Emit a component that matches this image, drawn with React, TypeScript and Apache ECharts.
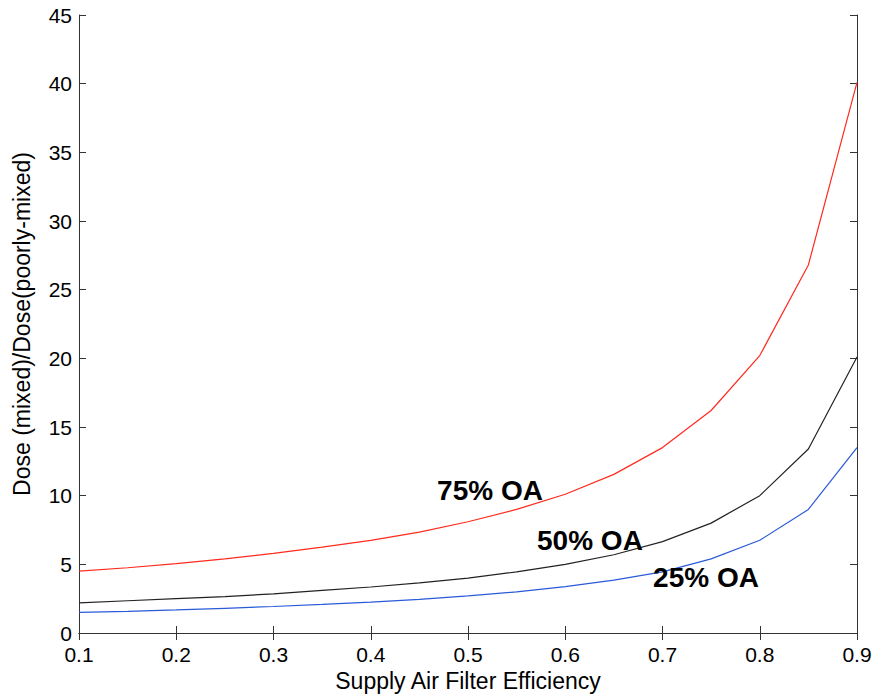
import React, { useEffect, useRef } from "react";
import * as echarts from "echarts";

const efficiency = [0.1, 0.15, 0.2, 0.25, 0.3, 0.35, 0.4, 0.45, 0.5, 0.55, 0.6, 0.65, 0.7, 0.75, 0.8, 0.85, 0.9];
const oa75 = [4.5, 4.75, 5.05, 5.4, 5.8, 6.25, 6.75, 7.35, 8.1, 9.0, 10.1, 11.55, 13.5, 16.2, 20.2, 26.8, 40.1];
const oa50 = [2.2, 2.35, 2.5, 2.65, 2.85, 3.1, 3.35, 3.65, 4.0, 4.45, 5.0, 5.7, 6.65, 8.0, 10.0, 13.4, 20.1];
const oa25 = [1.5, 1.58, 1.68, 1.8, 1.93, 2.08, 2.25, 2.45, 2.7, 3.0, 3.38, 3.85, 4.45, 5.4, 6.75, 9.0, 13.5];
const seriesNames = ["75% OA", "50% OA", "25% OA"];
const labelCoords: [number, number][] = [[0.5226, 10.41], [0.6254, 6.77], [0.7447, 4.04]];
const xTitle = "Supply Air Filter Efficiency";
const yTitle = "Dose (mixed)/Dose(poorly-mixed)";

const FONT = "Liberation Sans, Arial, Helvetica, sans-serif";

export default function App() {
  const ref = useRef<HTMLDivElement>(null);
  useEffect(() => {
    if (!ref.current) return;
    const chart = echarts.init(ref.current, undefined, { renderer: "svg" });
    const pair = (ys: number[]) => efficiency.map((x, i) => [x, ys[i]]);
    const colors = ["#ff2a1e", "#222222", "#2a5ad8"];
    const datasets = [oa75, oa50, oa25];
    const axisLine = { show: true, lineStyle: { color: "#333", width: 1 } };
    const tick = { show: true, inside: true, length: 7, lineStyle: { color: "#333", width: 1 } };
    chart.setOption({
      animation: false,
      backgroundColor: "#ffffff",
      textStyle: { fontFamily: FONT },
      grid: { left: 79, right: 18, top: 15, bottom: 65, containLabel: false },
      xAxis: [
        {
          type: "value",
          min: 0.1,
          max: 0.9,
          interval: 0.1,
          position: "bottom",
          name: xTitle,
          nameLocation: "middle",
          nameGap: 34,
          nameTextStyle: { fontSize: 23, color: "#000", fontFamily: FONT },
          axisLine,
          axisTick: tick,
          splitLine: { show: false },
          axisLabel: {
            fontSize: 21,
            color: "#000",
            margin: 11,
            fontFamily: FONT,
            formatter: (v: number) => v.toFixed(1),
          },
        },
        {
          type: "value",
          min: 0.1,
          max: 0.9,
          interval: 0.1,
          position: "top",
          axisLine,
          axisTick: tick,
          splitLine: { show: false },
          axisLabel: { show: false },
        },
      ],
      yAxis: [
        {
          type: "value",
          min: 0,
          max: 45,
          interval: 5,
          position: "left",
          name: yTitle,
          nameLocation: "middle",
          nameGap: 46,
          nameRotate: 90,
          nameTextStyle: { fontSize: 23, color: "#000", fontFamily: FONT },
          axisLine,
          axisTick: tick,
          splitLine: { show: false },
          axisLabel: { fontSize: 21, color: "#000", margin: 7, fontFamily: FONT },
        },
        {
          type: "value",
          min: 0,
          max: 45,
          interval: 5,
          position: "right",
          axisLine,
          axisTick: tick,
          splitLine: { show: false },
          axisLabel: { show: false },
        },
      ],
      series: datasets.map((ys, i) => ({
        name: seriesNames[i],
        type: "line",
        xAxisIndex: 0,
        yAxisIndex: 0,
        data: pair(ys),
        symbol: "none",
        lineStyle: { color: colors[i], width: 1.2 },
        z: 3,
        markPoint: {
          symbol: "circle",
          symbolSize: 0,
          silent: true,
          data: [
            {
              coord: labelCoords[i],
              label: {
                show: true,
                position: "inside",
                formatter: seriesNames[i],
                fontSize: 28,
                fontWeight: "bold",
                color: "#000",
                fontFamily: FONT,
              },
            },
          ],
        },
      })),
    });
    return () => chart.dispose();
  }, []);
  return (
    <div
      ref={ref}
      style={{ position: "fixed", left: 0, top: 0, width: 875, height: 698, background: "#fff" }}
    />
  );
}
